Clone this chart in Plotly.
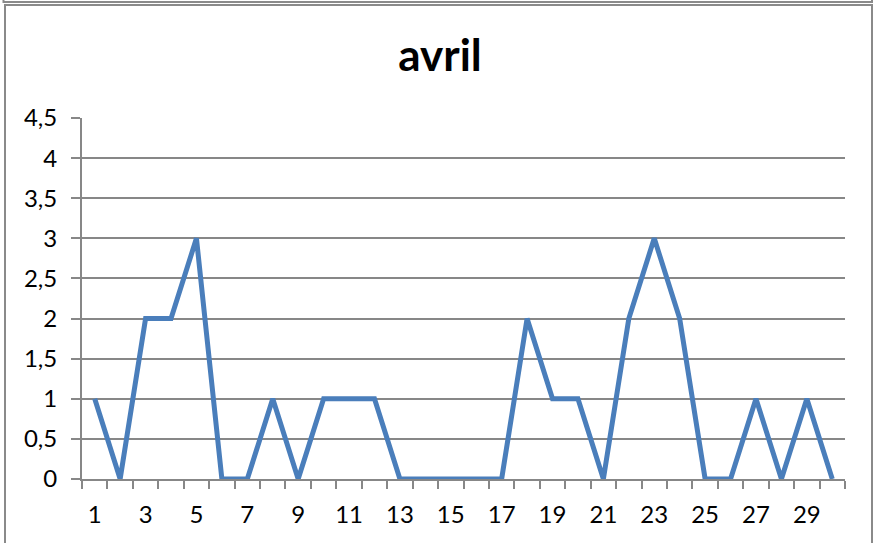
import plotly.graph_objects as go

days = list(range(1, 31))
values = [1, 0, 2, 2, 3, 0, 0, 1, 0, 1, 1, 1, 0, 0, 0, 0, 0, 2, 1, 1, 0, 2, 3, 2, 0, 0, 1, 0, 1, 0]
x_tick_vals = list(range(1, 30, 2))
x_tick_text = [str(v) for v in x_tick_vals]
y_tick_vals = [0, 0.5, 1, 1.5, 2, 2.5, 3, 3.5, 4, 4.5]
y_tick_text = ["0", "0,5", "1", "1,5", "2", "2,5", "3", "3,5", "4", "4,5"]
title_text = "avril"

W, H = 875, 543
L, R, T, B = 82, 845, 118, 479

def xp(px):
    return (px - L) / (R - L)

def yp(py):
    return (B - py) / (B - T)

grid_color = "#878787"

fig = go.Figure()
fig.add_trace(go.Scatter(
    x=days, y=values, mode="lines",
    line=dict(color="#4a7ebb", width=5),
    hoverinfo="skip", showlegend=False,
))

shapes = [
    # chart border
    dict(type="rect", xref="paper", yref="paper",
         x0=xp(5), x1=xp(872), y0=yp(5), y1=yp(560),
         line=dict(color="#8a8a8a", width=2), fillcolor="rgba(0,0,0,0)", layer="below"),
    # box above (bottom edge visible)
    dict(type="rect", xref="paper", yref="paper",
         x0=xp(3.5), x1=xp(872), y0=yp(2), y1=yp(-20),
         line=dict(color="#8a8a8a", width=2), fillcolor="rgba(0,0,0,0)", layer="below"),
]

fig.update_layout(
    width=W, height=H,
    margin=dict(l=L, r=W - R, t=T, b=H - B, pad=0),
    paper_bgcolor="white", plot_bgcolor="white",
    font=dict(family="Lato", size=24, color="#000000"),
    title=dict(text="<b>" + title_text + "</b>", x=440 / W, xanchor="center",
               y=1 - 56 / H, yanchor="middle", font=dict(family="Lato", size=44, color="#000000")),
    shapes=shapes,
    xaxis=dict(
        range=[0.5, 30.5], tickmode="array", tickvals=x_tick_vals, ticktext=x_tick_text,
        ticks="", showgrid=False, zeroline=False,
        showline=True, linecolor=grid_color, linewidth=2,
        ticklabelstandoff=13,
        minor=dict(tickmode="linear", tick0=0.5, dtick=1, ticks="outside",
                   ticklen=8, tickwidth=2, tickcolor=grid_color, showgrid=False),
        tickfont=dict(family="Lato", size=24, color="#000000"),
    ),
    yaxis=dict(
        range=[0, 4.5], tickmode="array", tickvals=y_tick_vals, ticktext=y_tick_text,
        ticks="outside", ticklen=9, tickwidth=2, tickcolor=grid_color,
        showgrid=True, gridcolor=grid_color, gridwidth=2, zeroline=False,
        showline=True, linecolor=grid_color, linewidth=2,
        ticklabelstandoff=9,
        tickfont=dict(family="Lato", size=24, color="#000000"),
    ),
)

fig.write_html("out.html", config={"displayModeBar": False},
               post_script="document.body.style.margin='0';document.body.style.overflow='hidden';")
